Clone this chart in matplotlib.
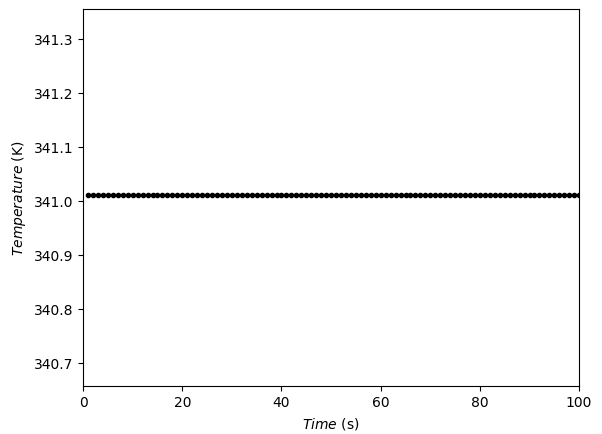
import matplotlib
matplotlib.use("Agg")
import matplotlib.pyplot as plt

# constant temperature sampled once per second
time_s = list(range(1, 101))
temperature_k = [341.012] * len(time_s)

fig, ax = plt.subplots(figsize=(6.02, 4.34), dpi=100)
ax.plot(time_s, temperature_k, "k.-")
ax.set_xlim(0, 100)
ax.set_ylim(340.657, 341.356)
ax.set_xlabel(r"$Time$ (s)")
ax.set_ylabel(r"$Temperature$ (K)")
fig.subplots_adjust(left=0.138, right=0.962, top=0.979, bottom=0.11)
fig.savefig("out.png")
